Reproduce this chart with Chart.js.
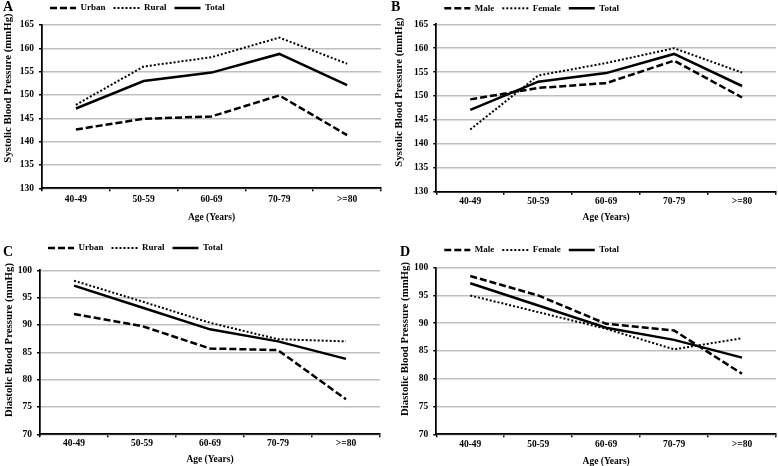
<!DOCTYPE html>
<html>
<head>
<meta charset="utf-8">
<script src="https://cdn.jsdelivr.net/npm/chart.js@4.4.1/dist/chart.umd.min.js"></script>
<style>
  body { margin: 0; background: #fff; }
  #page { position: relative; width: 778px; height: 466px; overflow: hidden; font-family: "Liberation Serif", serif; color: #000; }
  canvas { position: absolute; }
  .tag { position: absolute; font: bold 14px "Liberation Serif", serif; line-height: 14px; }
  .ytitle { position: absolute; font: bold 10.8px "Liberation Serif", serif; white-space: nowrap; transform: translate(-50%, -50%) rotate(-90deg); }
</style>
</head>
<body>
<div id="page"></div>
<script>
const ageGroups = ['40-49', '50-59', '60-69', '70-79', '>=80'];

// systolic (mmHg)
const sbpUrban = [142.6, 144.9, 145.4, 149.9, 141.4];
const sbpRural = [147.9, 156.1, 158.1, 162.3, 156.7];
const sbpMale = [149.3, 151.7, 152.7, 157.4, 149.7];
const sbpFemale = [143.0, 154.3, 156.9, 160.0, 154.9];
const sbpTotal = [147.1, 153.0, 154.8, 158.8, 152.1];

// diastolic (mmHg)
const dbpUrban = [92.0, 89.8, 85.7, 85.4, 76.4];
const dbpRural = [98.1, 94.3, 90.4, 87.4, 87.0];
const dbpMale = [98.5, 95.0, 89.9, 88.7, 80.9];
const dbpFemale = [95.0, 92.0, 89.0, 85.3, 87.3];
const dbpTotal = [97.2, 93.2, 89.2, 87.0, 83.8];

const sbpRange = [130, 165];
const dbpRange = [70, 100];
const tickStep = 5;

const serif = '"Liberation Serif", serif';
// dashed / dotted / solid, in series order
const lineStyles = [
  { dash: [7, 3], width: 2.5 },
  { dash: [2, 2], width: 2 },
  { dash: [], width: 2.5 },
];

const panels = [
  { tag: 'A', box: [0, 0, 388, 235], tagPos: [3, 0], range: sbpRange,
    series: [['Urban', sbpUrban], ['Rural', sbpRural], ['Total', sbpTotal]],
    yTitle: 'Systolic Blood Pressure (mmHg)', yTitlePos: [7, 88],
    left: 42, right: 7, top: -4.5, gap: 1.3, xHeight: 34.45, bottom: 12.25, tickPad: 3 },
  { tag: 'B', box: [388, 0, 390, 235], tagPos: [391, 0], range: sbpRange,
    series: [['Male', sbpMale], ['Female', sbpFemale], ['Total', sbpTotal]],
    yTitle: 'Systolic Blood Pressure (mmHg)', yTitlePos: [398, 92],
    left: 48.3, right: 2, top: -4.2, gap: 0.3, xHeight: 31.05, bottom: 12.25, tickPad: 1.6 },
  { tag: 'C', box: [0, 232, 388, 234], tagPos: [3, 245], range: dbpRange,
    series: [['Urban', dbpUrban], ['Rural', dbpRural], ['Total', dbpTotal]],
    yTitle: 'Diastolic Blood Pressure (mmHg)', yTitlePos: [7.5, 339.5],
    left: 40, right: 8, top: 3.5, gap: 6.6, xHeight: 30.15, bottom: 1.55, tickPad: 1 },
  { tag: 'D', box: [388, 232, 390, 234], tagPos: [400, 245], range: dbpRange,
    series: [['Male', dbpMale], ['Female', dbpFemale], ['Total', dbpTotal]],
    yTitle: 'Diastolic Blood Pressure (mmHg)', yTitlePos: [403.7, 338.7],
    left: 48.3, right: 2, top: 5.5, gap: 2, xHeight: 31.7, bottom: 0, tickPad: 1.3 },
];

const page = document.getElementById('page');

function addText(cls, text, x, y) {
  const el = document.createElement('div');
  el.className = cls;
  el.textContent = text;
  el.style.left = x + 'px';
  el.style.top = y + 'px';
  page.appendChild(el);
}

// default labels take the point style, so put the line dash back in
function legendLabels(chart) {
  const items = Chart.defaults.plugins.legend.labels.generateLabels(chart);
  items.forEach((item) => {
    const ds = chart.data.datasets[item.datasetIndex];
    item.lineDash = ds.borderDash;
    item.lineWidth = ds.borderWidth;
    item.strokeStyle = ds.borderColor;
  });
  return items;
}

function makePanel(p) {
  const [bx, by, bw, bh] = p.box;
  const canvas = document.createElement('canvas');
  canvas.width = bw; canvas.height = bh;
  canvas.style.left = bx + 'px'; canvas.style.top = by + 'px';
  page.appendChild(canvas);

  addText('tag', p.tag, p.tagPos[0], p.tagPos[1]);
  addText('ytitle', p.yTitle, p.yTitlePos[0], p.yTitlePos[1]);

  new Chart(canvas, {
    type: 'line',
    data: {
      labels: ageGroups,
      datasets: p.series.map(([label, values], i) => ({
        label, data: values,
        borderColor: '#000', backgroundColor: '#000',
        borderWidth: lineStyles[i].width, borderDash: lineStyles[i].dash,
        pointRadius: 0, tension: 0, fill: false,
      })),
    },
    options: {
      responsive: false, animation: false, devicePixelRatio: 1,
      layout: { padding: { top: p.top, right: p.right, bottom: p.bottom, left: 0 } },
      plugins: {
        legend: {
          position: 'top', align: 'start', fullSize: false,
          labels: { usePointStyle: true, pointStyle: 'line', pointStyleWidth: 26, padding: 8, color: '#000',
            generateLabels: legendLabels,
            font: { family: serif, size: 9, weight: 'bold' } },
        },
        // empty title just used as spacer between legend and plot
        title: { display: true, text: ' ', weight: 500, fullSize: false, font: { size: 1 }, padding: { top: p.gap, bottom: 0 } },
        tooltip: { enabled: false },
      },
      scales: {
        x: {
          offset: true,
          grid: { offset: true, drawOnChartArea: false, tickLength: 3, color: '#000', lineWidth: 1.5 },
          border: { color: '#000', width: 1.75 },
          ticks: { color: '#000', padding: p.tickPad, autoSkip: false, maxRotation: 0, font: { family: serif, size: 9.5, weight: 'bold' } },
          title: { display: true, text: 'Age (Years)', color: '#000', padding: 0, font: { family: serif, size: 9.5, weight: 'bold', lineHeight: 1 } },
          afterFit: (s) => { s.height = p.xHeight; },
        },
        y: {
          min: p.range[0], max: p.range[1],
          grid: { color: '#bfbfbf', lineWidth: 1.5, tickLength: 3, tickColor: '#000' },
          border: { color: '#000', width: 1.75 },
          ticks: { stepSize: tickStep, padding: 5, color: '#000', font: { family: serif, size: 9.5, weight: 'bold' } },
          afterFit: (s) => { s.width = p.left; },
        },
      },
    },
  });
}

panels.forEach(makePanel);
</script>
</body>
</html>
